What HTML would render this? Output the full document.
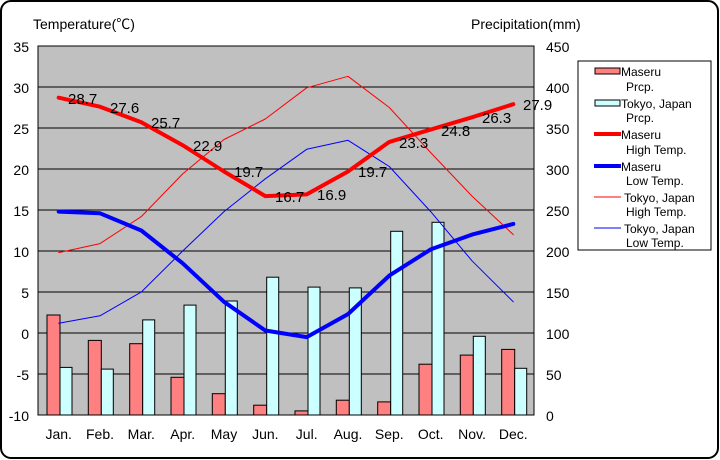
<!DOCTYPE html>
<html><head><meta charset="utf-8"><style>body{margin:0;background:#fff}svg{display:block}text{font-family:"Liberation Sans","Noto Sans CJK JP",sans-serif;fill:#000}</style></head><body>
<svg width="720" height="460" viewBox="0 0 720 460" xmlns="http://www.w3.org/2000/svg">
<rect x="1" y="1" width="717" height="457" rx="10" fill="#fff" stroke="#000" stroke-width="2"/>
<rect x="38" y="46" width="496" height="369" fill="#c0c0c0" stroke="#000"/>
<g stroke="#000" stroke-width="1">
<line x1="38" y1="87" x2="534" y2="87"/><line x1="38" y1="128" x2="534" y2="128"/><line x1="38" y1="169" x2="534" y2="169"/><line x1="38" y1="210" x2="534" y2="210"/><line x1="38" y1="251" x2="534" y2="251"/><line x1="38" y1="292" x2="534" y2="292"/><line x1="38" y1="333" x2="534" y2="333"/><line x1="38" y1="374" x2="534" y2="374"/>
</g>
<g fill="#ff8080" stroke="#000">
<rect x="47" y="315" width="13" height="100"/><rect x="88.3" y="340.4" width="13" height="74.6"/><rect x="129.7" y="343.7" width="13" height="71.3"/><rect x="171" y="377.3" width="13" height="37.7"/><rect x="212.3" y="393.7" width="13" height="21.3"/><rect x="253.7" y="405.2" width="13" height="9.8"/><rect x="295" y="410.9" width="13" height="4.1"/><rect x="336.3" y="400.2" width="13" height="14.8"/><rect x="377.7" y="401.9" width="13" height="13.1"/><rect x="419" y="364.2" width="13" height="50.8"/><rect x="460.3" y="355.1" width="13" height="59.9"/><rect x="501.7" y="349.4" width="13" height="65.6"/>
</g>
<g fill="#ccffff" stroke="#000">
<rect x="60" y="367.4" width="12" height="47.6"/><rect x="101.3" y="369.1" width="12" height="45.9"/><rect x="142.7" y="319.9" width="12" height="95.1"/><rect x="184" y="305.1" width="12" height="109.9"/><rect x="225.3" y="301" width="12" height="114"/><rect x="266.7" y="277.2" width="12" height="137.8"/><rect x="308" y="287.1" width="12" height="127.9"/><rect x="349.3" y="287.9" width="12" height="127.1"/><rect x="390.7" y="231.3" width="12" height="183.7"/><rect x="432" y="222.3" width="12" height="192.7"/><rect x="473.3" y="336.3" width="12" height="78.7"/><rect x="514.7" y="368.3" width="12" height="46.7"/>
</g>
<g fill="none" stroke-linejoin="round" stroke-linecap="round">
<polyline stroke="#ff0000" stroke-width="1" points="58.7,252.6 100,243.6 141.3,216.6 182.7,173.9 224,139.5 265.3,119 306.7,87.8 348,76.3 389.3,107.5 430.7,152.6 472,196.1 513.3,234.6"/>
<polyline stroke="#0000ff" stroke-width="1" points="58.7,323.2 100,315.8 141.3,292 182.7,251 224,211.6 265.3,178.8 306.7,149.3 348,140.3 389.3,166.5 430.7,211.6 472,260.8 513.3,301.8"/>
<polyline stroke="#ff0000" stroke-width="4" points="58.7,97.7 100,106.7 141.3,122.3 182.7,145.2 224,171.5 265.3,196.1 306.7,194.4 348,171.5 389.3,141.9 430.7,129.6 472,117.3 513.3,104.2"/>
<polyline stroke="#0000ff" stroke-width="4" points="58.7,211.6 100,213.3 141.3,230.5 182.7,263.3 224,301.8 265.3,330.5 306.7,337.1 348,314.1 389.3,275.6 430.7,249.4 472,234.6 513.3,223.9"/>
</g>
<g font-size="15">
<text x="68" y="104">28.7</text><text x="110" y="113">27.6</text><text x="151" y="128">25.7</text><text x="193" y="151">22.9</text><text x="234" y="177">19.7</text><text x="275" y="202">16.7</text><text x="317" y="200">16.9</text><text x="358" y="177">19.7</text><text x="399" y="148">23.3</text><text x="441" y="136">24.8</text><text x="482" y="123">26.3</text><text x="523" y="110">27.9</text>
</g>
<g font-size="14" text-anchor="end">
<text x="29" y="52">35</text><text x="29" y="93">30</text><text x="29" y="134">25</text><text x="29" y="175">20</text><text x="29" y="216">15</text><text x="29" y="257">10</text><text x="29" y="298">5</text><text x="29" y="339">0</text><text x="29" y="380">-5</text><text x="29" y="421">-10</text>
</g>
<g font-size="14">
<text x="546" y="52">450</text><text x="546" y="93">400</text><text x="546" y="134">350</text><text x="546" y="175">300</text><text x="546" y="216">250</text><text x="546" y="257">200</text><text x="546" y="298">150</text><text x="546" y="339">100</text><text x="546" y="380">50</text><text x="546" y="421">0</text>
</g>
<g font-size="14" text-anchor="middle">
<text x="58.7" y="439">Jan.</text><text x="100" y="439">Feb.</text><text x="141.3" y="439">Mar.</text><text x="182.7" y="439">Apr.</text><text x="224" y="439">May</text><text x="265.3" y="439">Jun.</text><text x="306.7" y="439">Jul.</text><text x="348" y="439">Aug.</text><text x="389.3" y="439">Sep.</text><text x="430.7" y="439">Oct.</text><text x="472" y="439">Nov.</text><text x="513.3" y="439">Dec.</text>
</g>
<text x="33" y="29" font-size="14">Temperature(℃)</text>
<text x="471" y="29" font-size="14">Precipitation(mm)</text>
<rect x="578" y="61" width="133" height="189" fill="#fff" stroke="#000"/>
<rect x="595" y="68" width="25" height="6" fill="#ff8080" stroke="#000"/>
<rect x="595" y="100" width="25" height="6" fill="#ccffff" stroke="#000"/>
<line x1="594" y1="134" x2="621" y2="134" stroke="#ff0000" stroke-width="4"/>
<line x1="594" y1="166" x2="621" y2="166" stroke="#0000ff" stroke-width="4"/>
<line x1="594" y1="197" x2="621" y2="197" stroke="#ff0000" stroke-width="1"/>
<line x1="594" y1="228" x2="621" y2="228" stroke="#0000ff" stroke-width="1"/>
<g font-size="12">
<text x="621" y="76">Maseru</text><text x="626" y="91">Prcp.</text>
<text x="621" y="108">Tokyo, Japan</text><text x="626" y="122">Prcp.</text>
<text x="621" y="139">Maseru</text><text x="626" y="154">High Temp.</text>
<text x="621" y="171">Maseru</text><text x="626" y="185">Low Temp.</text>
<text x="624" y="202">Tokyo, Japan</text><text x="626" y="216">High Temp.</text>
<text x="624" y="233">Tokyo, Japan</text><text x="626" y="247">Low Temp.</text>
</g>
</svg>
</body></html>
